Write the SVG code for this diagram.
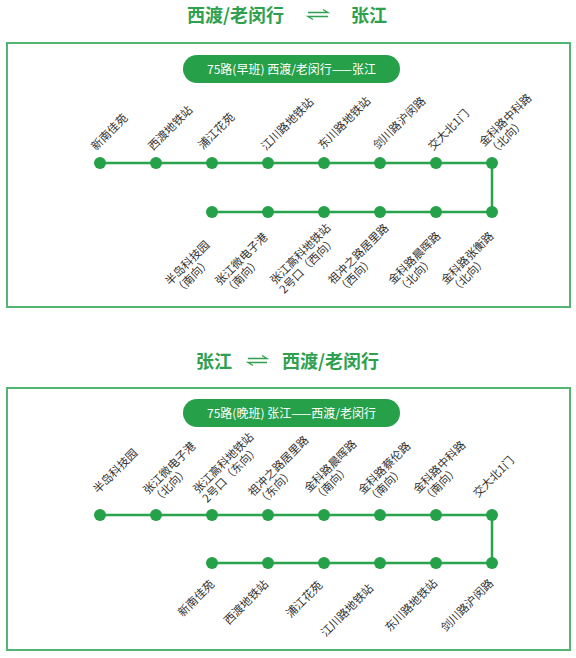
<svg xmlns="http://www.w3.org/2000/svg" width="576" height="658" viewBox="0 0 576 658">
<style>
.title{font-family:"Noto Sans CJK SC","Noto Sans",sans-serif;font-size:18px;font-weight:bold;fill:#2ea04e}
.box{fill:#fff;stroke:#52b573;stroke-width:2}
.pill{fill:#27a04a}
.pilltxt{font-family:"Noto Sans CJK SC","Noto Sans",sans-serif;font-size:12px;fill:#fff;text-anchor:middle}
.route{fill:none;stroke:#2ba34c;stroke-width:2.5}
.dot{fill:#25a149}
.lbl{font-family:"Noto Sans CJK SC","Noto Sans",sans-serif;font-size:11.4px;fill:#333}
.end{text-anchor:end}
.arr{fill:none;stroke:#2ea04e;stroke-width:1.3}
</style>
<rect width="576" height="658" fill="#fff"/>

<!-- Title 1 -->
<g id="title1">
<text class="title" x="187" y="22">西渡/老闵行</text>
<path class="arr" d="M308 12.5H328L323 9.5M328 16.5H308L313 19.5"/>
<text class="title" x="351" y="22">张江</text>
</g>

<!-- Box 1 -->
<g id="box1">
<rect class="box" x="7" y="43" width="563" height="264"/>
<rect class="pill" x="183" y="55" width="217" height="28" rx="14"/>
<text class="pilltxt" x="291.5" y="73.5">75路(早班) 西渡/老闵行——张江</text>
</g>

<g id="connectors1">
<path class="route" d="M100 163H492V212H212"/>
</g>

<g id="stops1">
<g id="s1-1"><circle class="dot" cx="100" cy="163" r="6"/><text class="lbl" transform="translate(96 151) rotate(-45)">新南佳苑</text></g>
<g id="s1-2"><circle class="dot" cx="156" cy="163" r="6"/><text class="lbl" transform="translate(153 151) rotate(-45)">西渡地铁站</text></g>
<g id="s1-3"><circle class="dot" cx="212" cy="163" r="6"/><text class="lbl" transform="translate(203 150) rotate(-45)">浦江花苑</text></g>
<g id="s1-4"><circle class="dot" cx="268" cy="163" r="6"/><text class="lbl" transform="translate(266 151) rotate(-45)">江川路地铁站</text></g>
<g id="s1-5"><circle class="dot" cx="324" cy="163" r="6"/><text class="lbl" transform="translate(323 150) rotate(-45)">东川路地铁站</text></g>
<g id="s1-6"><circle class="dot" cx="380" cy="163" r="6"/><text class="lbl" transform="translate(378 150) rotate(-45)">剑川路沪闵路</text></g>
<g id="s1-7"><circle class="dot" cx="436" cy="163" r="6"/><text class="lbl" transform="translate(433 151) rotate(-45)">交大北1门</text></g>
<g id="s1-8"><circle class="dot" cx="492" cy="163" r="6"/><text class="lbl" transform="translate(484 147) rotate(-45)"><tspan x="0" y="0">金科路中科路</tspan><tspan x="0" y="13">（北向）</tspan></text></g>
<g id="s1-9"><circle class="dot" cx="492" cy="212" r="6"/><text class="lbl" transform="translate(446 285) rotate(-45)"><tspan x="0" y="0">金科路张衡路</tspan><tspan x="0" y="13">（北向）</tspan></text></g>
<g id="s1-10"><circle class="dot" cx="436" cy="212" r="6"/><text class="lbl" transform="translate(393 285) rotate(-45)"><tspan x="0" y="0">金科路晨晖路</tspan><tspan x="0" y="13">（北向）</tspan></text></g>
<g id="s1-11"><circle class="dot" cx="380" cy="212" r="6"/><text class="lbl" transform="translate(333 285) rotate(-45)"><tspan x="0" y="0">祖冲之路居里路</tspan><tspan x="0" y="13">（西向）</tspan></text></g>
<g id="s1-12"><circle class="dot" cx="324" cy="212" r="6"/><text class="lbl" transform="translate(275 285) rotate(-45)"><tspan x="0" y="0">张江高科地铁站</tspan><tspan x="0" y="13">2号口（西向）</tspan></text></g>
<g id="s1-13"><circle class="dot" cx="268" cy="212" r="6"/><text class="lbl" transform="translate(220 286) rotate(-45)"><tspan x="0" y="0">张江微电子港</tspan><tspan x="0" y="13">（南向）</tspan></text></g>
<g id="s1-14"><circle class="dot" cx="212" cy="212" r="6"/><text class="lbl" transform="translate(170 286) rotate(-45)"><tspan x="0" y="0">半岛科技园</tspan><tspan x="0" y="13">（南向）</tspan></text></g>
</g>

<!-- Title 2 -->
<g id="title2">
<text class="title" x="196" y="368">张江</text>
<path class="arr" d="M248 358.5H267L262 355.5M267 362.5H248L253 365.5"/>
<text class="title" x="282" y="368">西渡/老闵行</text>
</g>

<!-- Box 2 -->
<g id="box2">
<rect class="box" x="7" y="388" width="563" height="262"/>
<rect class="pill" x="183" y="399" width="217" height="28" rx="14"/>
<text class="pilltxt" x="291.5" y="417.5">75路(晚班) 张江——西渡/老闵行</text>
</g>

<g id="connectors2">
<path class="route" d="M100 515H492V563H212"/>
</g>

<g id="stops2">
<g id="s2-1"><circle class="dot" cx="100" cy="515" r="6"/><text class="lbl" transform="translate(98 494) rotate(-45)">半岛科技园</text></g>
<g id="s2-2"><circle class="dot" cx="156" cy="515" r="6"/><text class="lbl" transform="translate(148 495) rotate(-45)"><tspan x="0" y="0">张江微电子港</tspan><tspan x="0" y="13">（北向）</tspan></text></g>
<g id="s2-3"><circle class="dot" cx="212" cy="515" r="6"/><text class="lbl" transform="translate(198 494) rotate(-45)"><tspan x="0" y="0">张江高科地铁站</tspan><tspan x="0" y="13">2号口（东向）</tspan></text></g>
<g id="s2-4"><circle class="dot" cx="268" cy="515" r="6"/><text class="lbl" transform="translate(253 497) rotate(-45)"><tspan x="0" y="0">祖冲之路居里路</tspan><tspan x="0" y="13">（东向）</tspan></text></g>
<g id="s2-5"><circle class="dot" cx="324" cy="515" r="6"/><text class="lbl" transform="translate(309 493) rotate(-45)"><tspan x="0" y="0">金科路晨晖路</tspan><tspan x="0" y="13">（南向）</tspan></text></g>
<g id="s2-6"><circle class="dot" cx="380" cy="515" r="6"/><text class="lbl" transform="translate(363 495) rotate(-45)"><tspan x="0" y="0">金科路蔡伦路</tspan><tspan x="0" y="13">（南向）</tspan></text></g>
<g id="s2-7"><circle class="dot" cx="436" cy="515" r="6"/><text class="lbl" transform="translate(418 494) rotate(-45)"><tspan x="0" y="0">金科路中科路</tspan><tspan x="0" y="13">（南向）</tspan></text></g>
<g id="s2-8"><circle class="dot" cx="492" cy="515" r="6"/><text class="lbl" transform="translate(478 498) rotate(-45)">交大北1门</text></g>
<g id="s2-9"><circle class="dot" cx="492" cy="563" r="6"/><text class="lbl end" transform="translate(494 584) rotate(-45)">剑川路沪闵路</text></g>
<g id="s2-10"><circle class="dot" cx="436" cy="563" r="6"/><text class="lbl end" transform="translate(438 584) rotate(-45)">东川路地铁站</text></g>
<g id="s2-11"><circle class="dot" cx="380" cy="563" r="6"/><text class="lbl end" transform="translate(374 589) rotate(-45)">江川路地铁站</text></g>
<g id="s2-12"><circle class="dot" cx="324" cy="563" r="6"/><text class="lbl end" transform="translate(323 586) rotate(-45)">浦江花苑</text></g>
<g id="s2-13"><circle class="dot" cx="268" cy="563" r="6"/><text class="lbl end" transform="translate(269 585) rotate(-45)">西渡地铁站</text></g>
<g id="s2-14"><circle class="dot" cx="212" cy="563" r="6"/><text class="lbl end" transform="translate(215 585) rotate(-45)">新南佳苑</text></g>
</g>
</svg>
